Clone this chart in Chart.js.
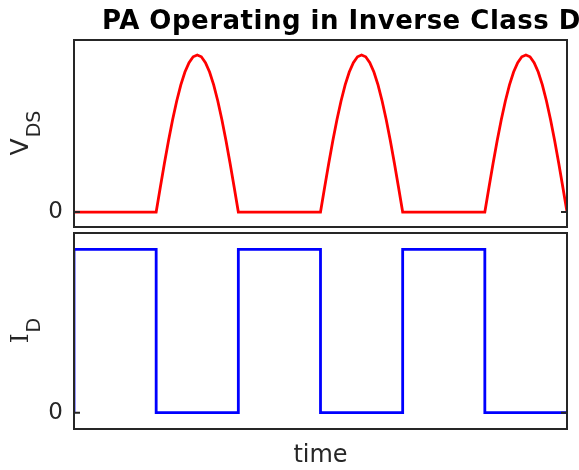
<!DOCTYPE html>
<html>
<head>
<meta charset="utf-8">
<script src="https://cdn.jsdelivr.net/npm/chart.js@4"></script>
<style>
  body { margin: 0; background: #fff; }
  .panel { position: absolute; left: 0; width: 579px; }
  #topBox { top: 0; height: 230px; }
  #botBox { top: 230px; height: 240px; }
</style>
</head>
<body>
<div class="panel" id="topBox"><canvas id="vdsChart"></canvas></div>
<div class="panel" id="botBox"><canvas id="idChart"></canvas></div>
<script>
// tiempo en medios periodos (0..6)
const vdsTime = [0, 1, 1.05, 1.1, 1.15, 1.2, 1.25, 1.3, 1.35, 1.4, 1.45, 1.5, 1.55, 1.6, 1.65, 1.7, 1.75, 1.8, 1.85, 1.9, 1.95, 2,
                 3, 3.05, 3.1, 3.15, 3.2, 3.25, 3.3, 3.35, 3.4, 3.45, 3.5, 3.55, 3.6, 3.65, 3.7, 3.75, 3.8, 3.85, 3.9, 3.95, 4,
                 5, 5.05, 5.1, 5.15, 5.2, 5.25, 5.3, 5.35, 5.4, 5.45, 5.5, 5.55, 5.6, 5.65, 5.7, 5.75, 5.8, 5.85, 5.9, 5.95, 6];
const vdsValue = [0, 0, 0.156, 0.309, 0.454, 0.588, 0.707, 0.809, 0.891, 0.951, 0.988, 1, 0.988, 0.951, 0.891, 0.809, 0.707, 0.588, 0.454, 0.309, 0.156, 0,
                  0, 0.156, 0.309, 0.454, 0.588, 0.707, 0.809, 0.891, 0.951, 0.988, 1, 0.988, 0.951, 0.891, 0.809, 0.707, 0.588, 0.454, 0.309, 0.156, 0,
                  0, 0.156, 0.309, 0.454, 0.588, 0.707, 0.809, 0.891, 0.951, 0.988, 1, 0.988, 0.951, 0.891, 0.809, 0.707, 0.588, 0.454, 0.309, 0.156, 0];

const idTime = [0, 0, 1, 1, 2, 2, 3, 3, 4, 4, 5, 5, 6];
const idValue = [0, 1, 1, 0, 0, 1, 1, 0, 0, 1, 1, 0, 0];

const yTicks = [0];
const titleText = 'PA Operating in Inverse Class D';
const xLabel = 'time';

const axisColor = '#262626';

// etiqueta girada con subíndice
function drawSubLabel(ctx, main, sub, mainFont, cx, cy) {
  ctx.save();
  ctx.translate(cx, cy);
  ctx.rotate(-Math.PI / 2);
  ctx.fillStyle = axisColor;
  ctx.textBaseline = 'alphabetic';
  ctx.textAlign = 'left';
  const subFont = '19px "DejaVu Sans"';
  ctx.font = mainFont;
  const wm = ctx.measureText(main).width;
  ctx.font = subFont;
  const ws = ctx.measureText(sub).width;
  const x0 = -(wm + ws) / 2;
  ctx.font = mainFont;
  ctx.fillText(main, x0, 0);
  ctx.font = subFont;
  ctx.fillText(sub, x0 + wm + 1, 12);
  ctx.restore();
}

// caja + marcas de eje + textos
const boxPlugin = {
  id: 'boxPlugin',
  afterDraw(chart, args, opts) {
    const { ctx, chartArea: a, scales } = chart;
    ctx.save();
    ctx.strokeStyle = axisColor;
    ctx.lineWidth = 2;
    ctx.strokeRect(a.left, a.top, a.right - a.left, a.bottom - a.top);
    yTicks.forEach(v => {
      const py = scales.y.getPixelForValue(v);
      ctx.beginPath();
      ctx.moveTo(a.left, py); ctx.lineTo(a.left + 6, py);
      ctx.moveTo(a.right, py); ctx.lineTo(a.right - 6, py);
      ctx.stroke();
    });
    const cy = (a.top + a.bottom) / 2;
    drawSubLabel(ctx, opts.main, opts.sub, opts.mainFont, 28, cy);
    if (opts.title) {
      ctx.fillStyle = '#000';
      ctx.font = 'bold 26px "DejaVu Sans"';
      ctx.letterSpacing = '0.5px';
      ctx.textBaseline = 'alphabetic';
      ctx.fillText(opts.title, 102, 29);
    }
    if (opts.xLabel) {
      ctx.fillStyle = axisColor;
      ctx.font = '24px "DejaVu Sans"';
      ctx.textAlign = 'center';
      ctx.textBaseline = 'alphabetic';
      ctx.fillText(opts.xLabel, (a.left + a.right) / 2, a.bottom + 33);
    }
    ctx.restore();
  }
};

function makeChart(id, times, values, color, yMin, yMax, pad, label) {
  return new Chart(document.getElementById(id), {
    type: 'line',
    data: {
      datasets: [{
        data: times.map((t, i) => ({ x: t, y: values[i] })),
        borderColor: color,
        borderWidth: 2.8,
        pointRadius: 0,
        tension: 0,
        fill: false
      }]
    },
    options: {
      responsive: true,
      maintainAspectRatio: false,
      animation: false,
      layout: { padding: pad },
      plugins: {
        legend: { display: false },
        tooltip: { enabled: false },
        boxPlugin: label
      },
      scales: {
        x: { type: 'linear', min: 0, max: 6, display: false },
        y: {
          min: yMin, max: yMax,
          afterFit(scale) {
            scale.width = 74;
            scale.paddingTop = 0;
            scale.paddingBottom = 0;
          },
          afterBuildTicks(scale) { scale.ticks = yTicks.map(v => ({ value: v })); },
          grid: { display: false, drawTicks: false },
          border: { display: false },
          ticks: { padding: 11, color: axisColor, font: { family: 'DejaVu Sans', size: 23 } }
        }
      }
    },
    plugins: [boxPlugin]
  });
}

makeChart('vdsChart', vdsTime, vdsValue, '#FF0000', -0.095, 1.095,
  { top: 40, right: 12, bottom: 3, left: 0 },
  { main: 'V', sub: 'DS', mainFont: '25px "DejaVu Sans"', title: titleText });

makeChart('idChart', idTime, idValue, '#0000FF', -0.1, 1.1,
  { top: 3, right: 12, bottom: 41, left: 0 },
  { main: 'I', sub: 'D', mainFont: '25px "DejaVu Serif"', xLabel: xLabel });
</script>
</body>
</html>
